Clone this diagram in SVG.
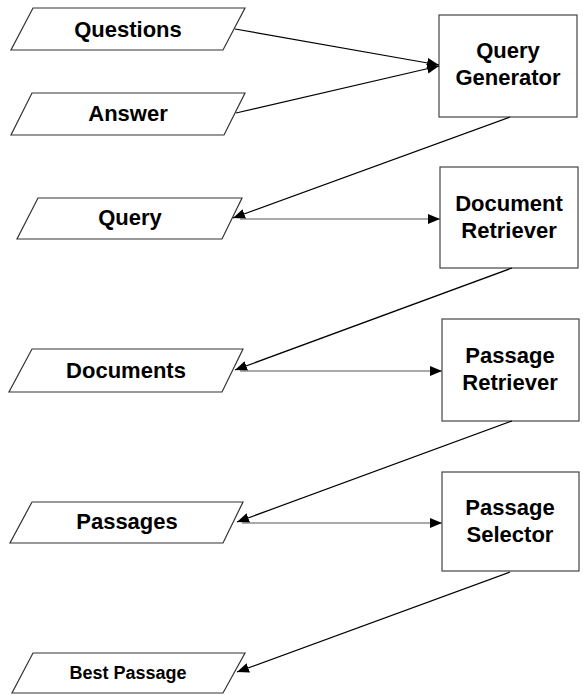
<svg xmlns="http://www.w3.org/2000/svg" width="583" height="695" viewBox="0 0 583 695">
<defs>
<marker id="ah" viewBox="0 0 12 10" refX="12" refY="5" markerWidth="12" markerHeight="10" markerUnits="userSpaceOnUse" orient="auto">
<path d="M0,0 L12,5 L0,10 z" fill="#000"/>
</marker>
</defs>
<style>
.io{fill:#fff;stroke:#333;stroke-width:1.2}
.box{fill:#fff;stroke:#444;stroke-width:1.2}
.t{font-family:"Liberation Sans",Arial,sans-serif;font-weight:bold;font-size:22px;fill:#000;text-anchor:middle}
.ts{font-size:18px}
.c{fill:none;stroke:#000;stroke-width:1.2;marker-end:url(#ah)}
.h{fill:none;stroke:#555;stroke-width:1;marker-end:url(#ah)}
</style>
<rect width="583" height="695" fill="#fff"/>
<g id="questions"><polygon class="io" points="33,8 245,8 223,50 11,50"/><text class="t" x="128" y="37">Questions</text></g>
<g id="answer"><polygon class="io" points="32,93 245,93 224,135 11,135"/><text class="t" x="128" y="121">Answer</text></g>
<g id="query"><polygon class="io" points="38,198 242,198 222,239 17,239"/><text class="t" x="130" y="225">Query</text></g>
<g id="documents"><polygon class="io" points="32,349 243,349 222,392 9,392"/><text class="t" x="126" y="378">Documents</text></g>
<g id="passages"><polygon class="io" points="32,502 243,502 223,543 10,543"/><text class="t" x="127" y="529">Passages</text></g>
<g id="best-passage"><polygon class="io" points="33,653 245,653 223,693 12,693"/><text class="t ts" x="128" y="679">Best Passage</text></g>
<g id="query-generator"><rect class="box" x="439" y="15" width="138" height="102"/><text class="t" x="508" y="58">Query</text><text class="t" x="508" y="85">Generator</text></g>
<g id="document-retriever"><rect class="box" x="440" y="167" width="138" height="101"/><text class="t" x="509" y="211">Document</text><text class="t" x="509" y="238">Retriever</text></g>
<g id="passage-retriever"><rect class="box" x="442" y="319" width="137" height="102"/><text class="t" x="510" y="363">Passage</text><text class="t" x="510" y="390">Retriever</text></g>
<g id="passage-selector"><rect class="box" x="442" y="472" width="137" height="99"/><text class="t" x="510" y="515">Passage</text><text class="t" x="510" y="542">Selector</text></g>
<g id="connectors">
<line class="c" x1="235" y1="29" x2="439" y2="65"/>
<line class="c" x1="236" y1="113" x2="439" y2="66"/>
<line class="c" x1="510" y1="117" x2="233" y2="218"/>
<line class="h" x1="240" y1="219" x2="440" y2="219"/>
<line class="c" x1="512" y1="268" x2="235" y2="370"/>
<line class="h" x1="240" y1="371" x2="442" y2="371"/>
<line class="c" x1="512" y1="421" x2="237" y2="522"/>
<line class="h" x1="242" y1="523" x2="442" y2="523"/>
<line class="c" x1="510" y1="572" x2="237" y2="672"/>
</g>
</svg>
